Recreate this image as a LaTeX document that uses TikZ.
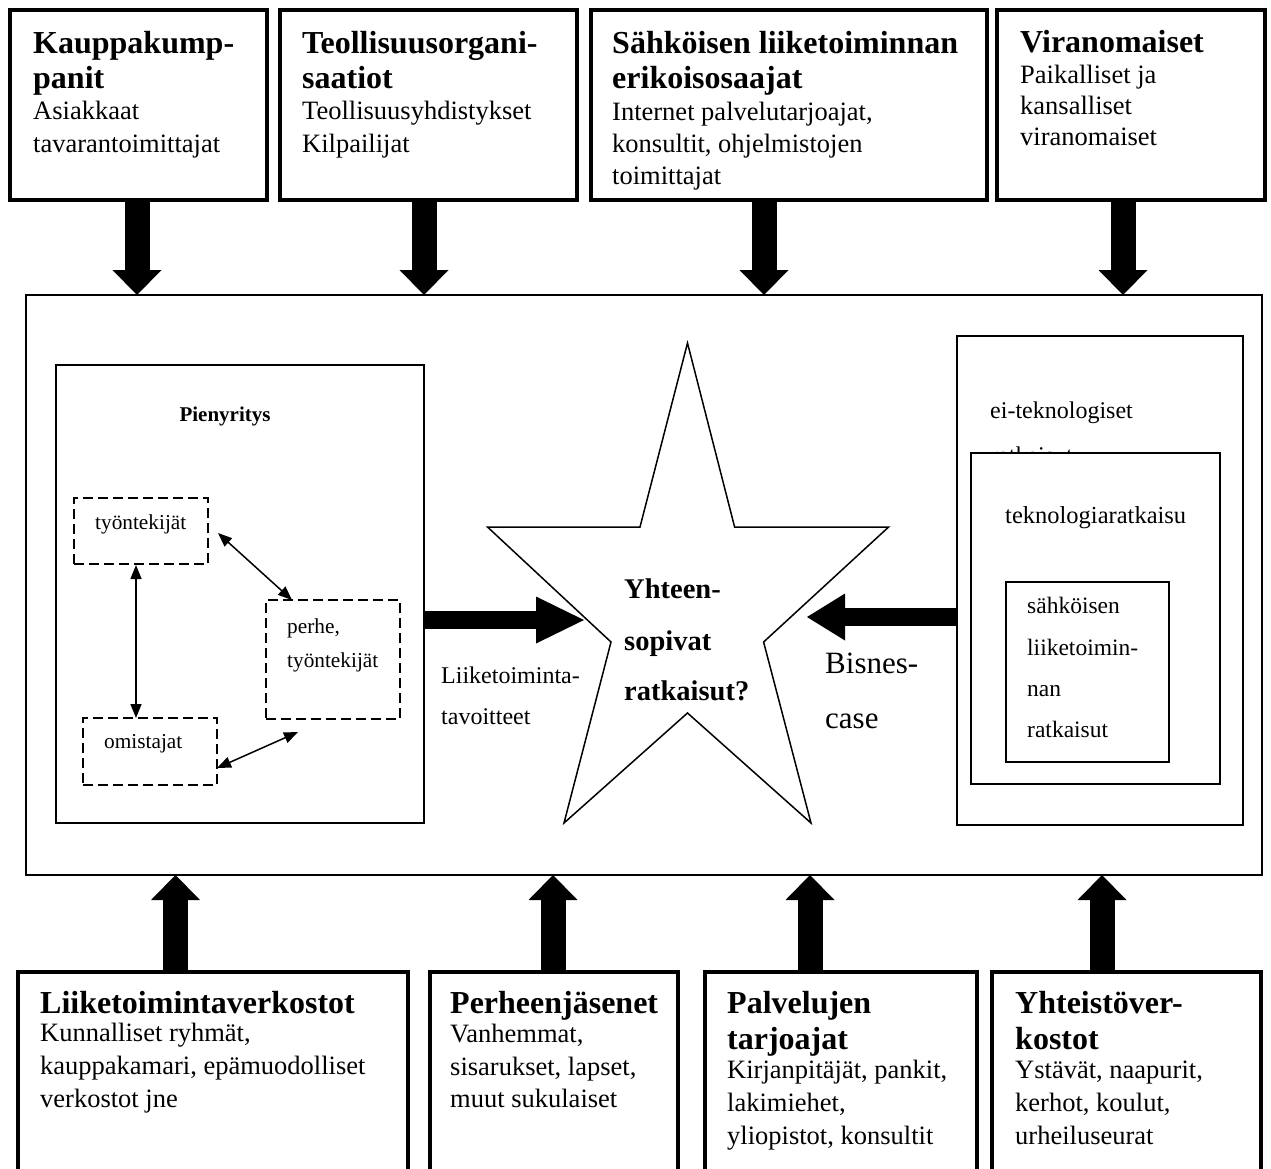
\documentclass[tikz,border=0pt]{standalone}
\usepackage{fontspec}
\setmainfont{Liberation Serif}
\usetikzlibrary{arrows.meta}
\begin{document}
\begin{tikzpicture}[x=1pt,y=-1pt,
  sz/.style 2 args={minimum width=#1pt,minimum height=#2pt},
  base/.style={inner sep=0pt,outer sep=0pt,anchor=north west,fill=white},
  heavybox/.style={base,draw,line width=3.5pt},
  frame/.style={base,draw,line width=1.5pt},
  panel/.style={base,draw,line width=2.2pt},
  dbox/.style={base,draw,line width=2.3pt,dash pattern=on 10pt off 5pt},
  ttl/.style={anchor=base west,inner sep=0pt,font=\fontsize{32}{37}\selectfont\bfseries},
  bdy/.style={anchor=base west,inner sep=0pt,font=\fontsize{26.5}{32}\selectfont},
  sml/.style={anchor=base west,inner sep=0pt,font=\fontsize{21.3}{26}\selectfont},
  mid/.style={anchor=base west,inner sep=0pt,font=\fontsize{24}{29}\selectfont},
  fatv/.style={line width=25pt,-{Triangle[length=25pt,width=49pt,line width=0pt]}},
  fath/.style={line width=18pt,-{Triangle[length=#1,width=47pt,line width=0pt]}},
  link/.style={line width=1.5pt,{Triangle[length=14pt,width=11pt]}-{Triangle[length=14pt,width=11pt]}}
]
\useasboundingbox (0,0) rectangle (1271,1168);
\fill[white] (0,0) rectangle (1271,1168);
\clip (0,0) rectangle (1271,1168);

% central frame
\node[frame,sz={1236}{580}] (core) at (26,295) {};

% stakeholder boxes above
\node[heavybox,sz={257}{190}] (kp) at (10,10) {};
\node[heavybox,sz={297}{190}] (to) at (280,10) {};
\node[heavybox,sz={396}{190}] (sl) at (591,10) {};
\node[heavybox,sz={268}{190}] (vi) at (997,10) {};

\node[ttl] (kp1) at (33,53) {Kauppakump-};
\node[ttl] (kp2) at (33,88) {panit};
\node[bdy] (kp3) at (33,119) {Asiakkaat};
\node[bdy] (kp4) at (33,152) {tavarantoimittajat};

\node[ttl] (to1) at (302,53) {Teollisuusorgani-};
\node[ttl] (to2) at (302,88) {saatiot};
\node[bdy] (to3) at (302,119) {Teollisuusyhdistykset};
\node[bdy] (to4) at (302,152) {Kilpailijat};

\node[ttl] (sl1) at (612,53) {Sähköisen liiketoiminnan};
\node[ttl] (sl2) at (612,88) {erikoisosaajat};
\node[bdy] (sl3) at (612,120) {Internet palvelutarjoajat,};
\node[bdy] (sl4) at (612,152) {konsultit, ohjelmistojen};
\node[bdy] (sl5) at (612,184) {toimittajat};

\node[ttl] (vi1) at (1020,52) {Viranomaiset};
\node[bdy] (vi2) at (1020,83) {Paikalliset ja};
\node[bdy] (vi3) at (1020,114) {kansalliset};
\node[bdy] (vi4) at (1020,145) {viranomaiset};

% stakeholder boxes below (open at the page edge)
\node[heavybox,sz={390}{240}] (lv) at (18,972) {};
\node[heavybox,sz={248}{240}] (pj) at (430,972) {};
\node[heavybox,sz={272}{240}] (pt) at (705,972) {};
\node[heavybox,sz={269}{240}] (yv) at (992,972) {};

\node[ttl] (lv1) at (40,1013) {Liiketoimintaverkostot};
\node[bdy] (lv2) at (40,1041) {Kunnalliset ryhmät,};
\node[bdy] (lv3) at (40,1074) {kauppakamari, epämuodolliset};
\node[bdy] (lv4) at (40,1107) {verkostot jne};

\node[ttl] (pj1) at (450,1013) {Perheenjäsenet};
\node[bdy] (pj2) at (450,1042) {Vanhemmat,};
\node[bdy] (pj3) at (450,1075) {sisarukset, lapset,};
\node[bdy] (pj4) at (450,1107) {muut sukulaiset};

\node[ttl] (pt1) at (727,1013) {Palvelujen};
\node[ttl] (pt2) at (727,1049) {tarjoajat};
\node[bdy] (pt3) at (727,1078) {Kirjanpitäjät, pankit,};
\node[bdy] (pt4) at (727,1111) {lakimiehet,};
\node[bdy] (pt5) at (727,1144) {yliopistot, konsultit};

\node[ttl] (yv1) at (1015,1013) {Yhteistöver-};
\node[ttl] (yv2) at (1015,1049) {kostot};
\node[bdy] (yv3) at (1015,1078) {Ystävät, naapurit,};
\node[bdy] (yv4) at (1015,1111) {kerhot, koulut,};
\node[bdy] (yv5) at (1015,1144) {urheiluseurat};

% heavy arrows into the central frame
\coordinate (kpS) at (137,200);  \coordinate (kpE) at (137,295);
\coordinate (toS) at (424,200);  \coordinate (toE) at (424,295);
\coordinate (slS) at (764,200);  \coordinate (slE) at (764,295);
\coordinate (viS) at (1123,200); \coordinate (viE) at (1123,295);
\coordinate (lvS) at (175.5,972); \coordinate (lvE) at (175.5,875);
\coordinate (pjS) at (553,972);  \coordinate (pjE) at (553,875);
\coordinate (ptS) at (810,972);  \coordinate (ptE) at (810,875);
\coordinate (yvS) at (1102,972); \coordinate (yvE) at (1102,875);
\foreach \a in {kp,to,sl,vi,lv,pj,pt,yv} \draw[fatv] (\a S) -- (\a E);

% small business
\node[panel,sz={368}{458}] (pien) at (56,365) {};
\node[anchor=base,inner sep=0pt,font=\fontsize{21}{26}\selectfont\bfseries] (pienT) at (225,421) {Pienyritys};
\node[dbox,sz={134}{66}] (tyo) at (74,498) {};
\node[dbox,sz={134}{119}] (per) at (266,600) {};
\node[dbox,sz={134}{67}] (omi) at (83,718) {};
\node[sml] (tyoT) at (95,529) {työntekijät};
\node[sml] (perT1) at (287,633) {perhe,};
\node[sml] (perT2) at (287,667) {työntekijät};
\node[sml] (omiT) at (104,748) {omistajat};

\coordinate (l1a) at (136,565); \coordinate (l1b) at (136,718);
\coordinate (l2a) at (218,533); \coordinate (l2b) at (292,600);
\coordinate (l3a) at (217,768); \coordinate (l3b) at (298,732);
\draw[link] (l1a) -- (l1b);
\draw[link] (l2a) -- (l2b);
\draw[link] (l3a) -- (l3b);

% solution layers on the right; the second line of the outer label
% runs under the next layer, so only its ascenders stay visible
\node[panel,sz={286}{489}] (eit) at (957,336) {};
\node[mid] (eitT1) at (990,418) {ei-teknologiset};
\node[mid] (eitT2) at (990,463) {ratkaisut};
\node[panel,sz={249}{331}] (tek) at (971,453) {};
\node[anchor=base west,inner sep=0pt,font=\fontsize{24.5}{29}\selectfont] (tekT) at (1005,523) {teknologiaratkaisu};
\node[panel,sz={163}{180}] (sah) at (1006,582) {};
\node[anchor=base west,inner sep=0pt,font=\fontsize{23.5}{29}\selectfont] (sahT1) at (1027,613) {sähköisen};
\node[anchor=base west,inner sep=0pt,font=\fontsize{23.5}{29}\selectfont] (sahT2) at (1027,655) {liiketoimin-};
\node[anchor=base west,inner sep=0pt,font=\fontsize{23.5}{29}\selectfont] (sahT3) at (1027,696) {nan};
\node[anchor=base west,inner sep=0pt,font=\fontsize{23.5}{29}\selectfont] (sahT4) at (1027,737) {ratkaisut};

% the star in the middle
\coordinate (star) at (687.5,608);
\draw[line width=1.5pt,fill=white] (687.5,343) -- (734.6,527) -- (888.6,527) -- (763.6,642) -- (811,823)
  -- (687.5,713) -- (564,823) -- (611,642) -- (487.5,527) -- (640,527) -- cycle;
\node[anchor=base west,inner sep=0pt,font=\fontsize{28.5}{34}\selectfont\bfseries] (st1) at (624,598) {Yhteen-};
\node[anchor=base west,inner sep=0pt,font=\fontsize{28.5}{34}\selectfont\bfseries] (st2) at (624,650) {sopivat};
\node[anchor=base west,inner sep=0pt,font=\fontsize{28.5}{34}\selectfont\bfseries] (st3) at (624,700) {ratkaisut?};

% inputs to the star
\coordinate (goalS) at (424,620); \coordinate (goalE) at (584,620);
\coordinate (caseS) at (957,617); \coordinate (caseE) at (807,617);
\draw[fath=48pt] (goalS) -- (goalE);
\draw[fath=38pt] (caseS) -- (caseE);
\node[mid] (goalT1) at (441,683) {Liiketoiminta-};
\node[mid] (goalT2) at (441,724) {tavoitteet};
\node[anchor=base west,inner sep=0pt,font=\fontsize{31}{36}\selectfont] (caseT1) at (825,673) {Bisnes-};
\node[anchor=base west,inner sep=0pt,font=\fontsize{31}{36}\selectfont] (caseT2) at (825,728) {case};
\end{tikzpicture}
\end{document}
